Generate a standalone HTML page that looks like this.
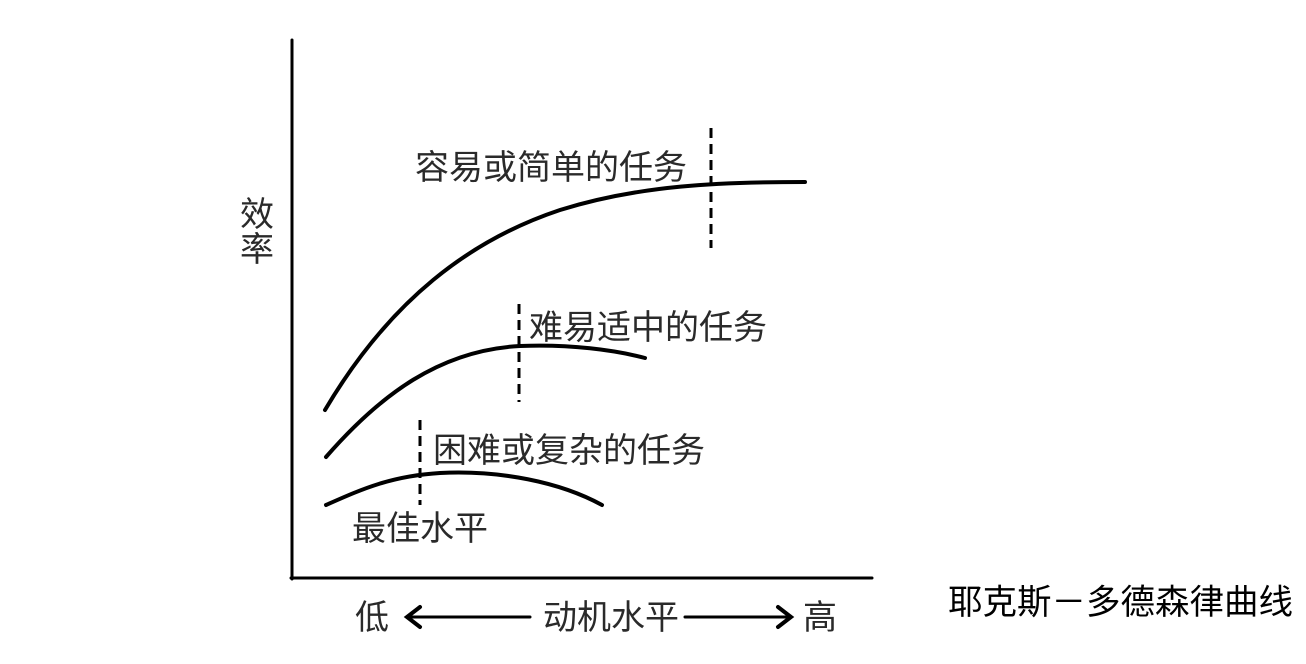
<!DOCTYPE html>
<html><head><meta charset="utf-8"><style>
html,body{margin:0;padding:0;background:#fff;}
svg{display:block;}
text{font-family:"Liberation Sans","Noto Sans CJK SC",sans-serif;fill:#2a2a2a;}
</style></head><body>
<svg width="1306" height="664" viewBox="0 0 1306 664" xmlns="http://www.w3.org/2000/svg">
<g stroke="#000" fill="none" stroke-linecap="round">
<line x1="292" y1="40" x2="292" y2="579" stroke-width="3"/>
<line x1="291" y1="578" x2="872" y2="578" stroke-width="3"/>
<path d="M325 410 C 390 300, 470 240, 560 210 C 640 185, 720 182, 805 182" stroke-width="4"/>
<path d="M326 457 C 380 395, 440 350, 520 346 C 570 344, 615 350, 645 358" stroke-width="4"/>
<path d="M326 505 C 360 490, 390 476, 440 473 C 500 470, 560 482, 602 505" stroke-width="4"/>
<g stroke-width="3" stroke-dasharray="10,6" stroke-linecap="butt">
<line x1="711" y1="128" x2="711" y2="248"/>
<line x1="519" y1="304" x2="519" y2="402"/>
<line x1="420" y1="420" x2="420" y2="505"/>
</g>
<line x1="410" y1="617" x2="530" y2="617" stroke-width="3"/>
<line x1="685" y1="617" x2="788" y2="617" stroke-width="3"/>
<path d="M420 607 L407 617 L420 627" stroke-width="4"/>
<path d="M778 607 L791 617 L778 627" stroke-width="4"/>
</g>
<g font-size="34">
<text x="415" y="179">容易或简单的任务</text>
<text x="529" y="339">难易适中的任务</text>
<text x="433" y="462">困难或复杂的任务</text>
<text x="352" y="540">最佳水平</text>
<text x="240" y="226">效</text>
<text x="240" y="261">率</text>
<text x="355" y="629">低</text>
<text x="543" y="629">动机水平</text>
<text x="803" y="629">高</text>
</g>
<text x="948" y="614" font-size="34.5" style="fill:#000">耶克斯－多德森律曲线</text>
</svg>
</body></html>
